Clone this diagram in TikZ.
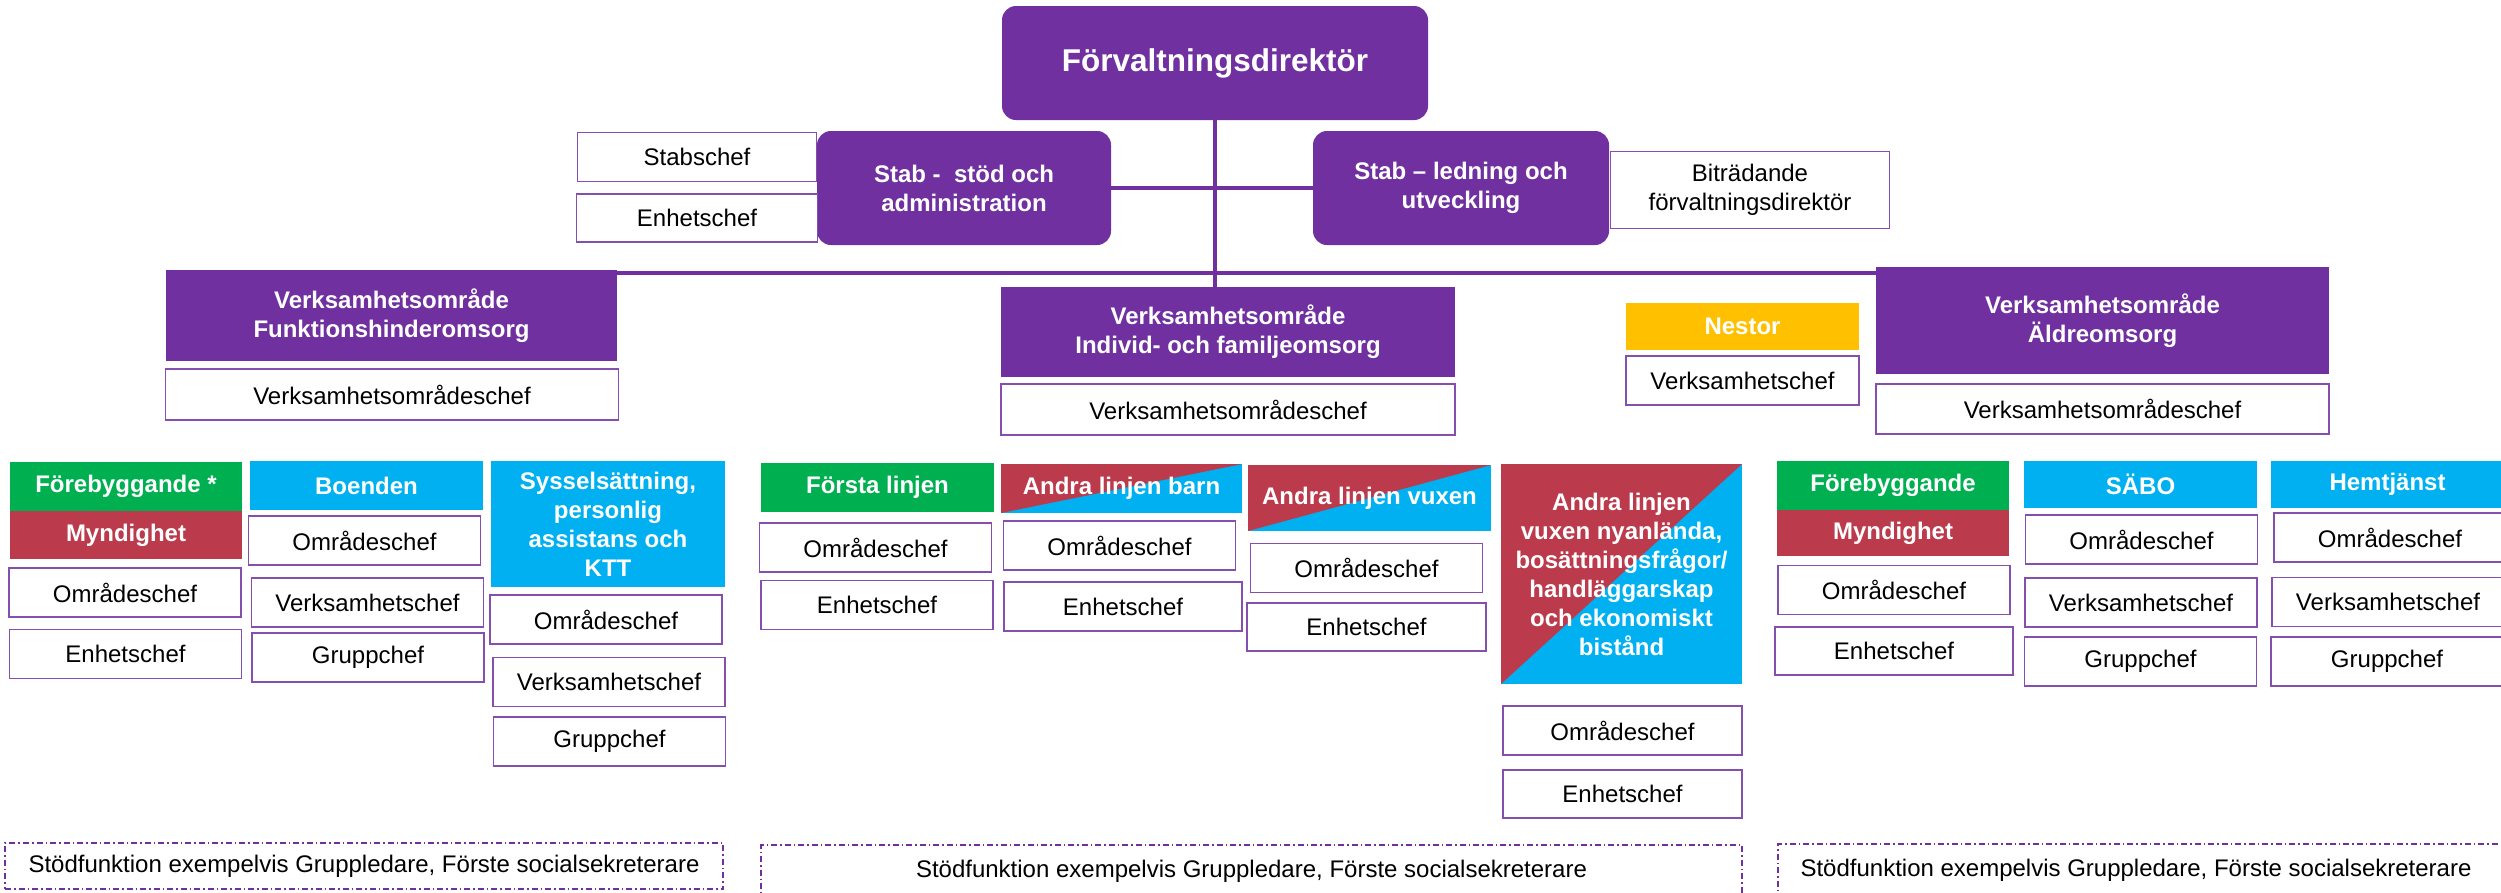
\documentclass[tikz,border=0pt]{standalone}
\usepackage{fontspec}
\setmainfont{Liberation Sans}
\definecolor{vpurple}{HTML}{7030A0}
\definecolor{vgreen}{HTML}{00B050}
\definecolor{vred}{HTML}{BB3B4C}
\definecolor{vblue}{HTML}{00B0F0}
\definecolor{vyellow}{HTML}{FFC000}
\begin{document}
\begin{tikzpicture}[x=1pt,y=-1pt,
	every node/.style={inner sep=0pt,outer sep=0pt,align=center,font=\fontsize{24}{29}\selectfont},
	sz/.style 2 args={minimum width=#1pt,minimum height=#2pt},
	lead/.style={fill=vpurple,text=white,font=\fontsize{24}{29}\selectfont\bfseries},
	rlead/.style={lead,rounded corners=14pt},
	tag/.style={text=white,font=\fontsize{24}{29}\selectfont\bfseries,sz={233}{49}},
	chef/.style={draw=vpurple!85,line width=1.5pt,fill=white,sz={232}{49}},
	split/.style={tag,fill=vblue,path picture={\fill[vred] (path picture bounding box.south west) -- (path picture bounding box.north west) -- (path picture bounding box.north east) -- cycle;}},
	stod/.style={draw=vpurple,line width=1.2pt,dash pattern=on 6pt off 3pt on 1.5pt off 3pt},
	link/.style={draw=vpurple,line width=4pt}]
	\useasboundingbox (0,0) rectangle (2501,892);
	%\draw[step=100,very thin,color=gray] (0,0) grid (2501,892);

	% ledning
	\node[rlead,sz={426}{114},font=\fontsize{31.5}{36}\selectfont\bfseries] (fd) at (1215,63) {Förvaltningsdirektör};
	\node[rlead,sz={294}{114}] (stabsa) at (964,188) {Stab -\ \ stöd och\\administration};
	\node[rlead,sz={296}{114}] (stablu) at (1461,188) {Stab – ledning och\\utveckling};
	\node[chef,sz={239}{49}] (stabschef) at (697,157) {Stabschef};
	\node[chef,sz={241}{48}] (stabenh) at (697,218) {Enhetschef};
	\node[chef,sz={279}{77}] (bitr) at (1750,190) {Biträdande\\förvaltningsdirektör};

	% verksamhetsomraden
	\node[lead,sz={451}{91}] (fho) at (391.5,315.5) {Verksamhetsområde\\Funktionshinderomsorg};
	\node[chef,sz={453}{51}] (fhochef) at (392,394.5) {Verksamhetsområdeschef};
	\node[lead,sz={454}{90}] (ifo) at (1228,332) {Verksamhetsområde\\Individ- och familjeomsorg};
	\node[chef,sz={454}{51}] (ifochef) at (1228,409.5) {Verksamhetsområdeschef};
	\node[tag,fill=vyellow,sz={233}{47}] (nestor) at (1742.5,326.5) {Nestor};
	\node[chef,sz={233}{49}] (nestorchef) at (1742.5,380.5) {Verksamhetschef};
	\node[lead,sz={453}{107}] (aeo) at (2102.5,320.5) {Verksamhetsområde\\Äldreomsorg};
	\node[chef,sz={453}{50}] (aeochef) at (2102.5,409) {Verksamhetsområdeschef};

	% funktionshinderomsorg
	\node[tag,fill=vgreen,sz={232}{49}] (fhoforeb) at (126,486.5) {Förebyggande *};
	\node[tag,fill=vred,sz={232}{48}] (fhomynd) at (126,535) {Myndighet};
	\node[chef] (fhoomr) at (125,592.5) {Områdeschef};
	\node[chef] (fhoenh) at (125.5,654) {Enhetschef};
	\node[tag,fill=vblue] (boenden) at (366.5,485.5) {Boenden};
	\node[chef] (boomr) at (364.5,540.5) {Områdeschef};
	\node[chef] (bovc) at (367.5,602.5) {Verksamhetschef};
	\node[chef] (bogc) at (368,657.5) {Gruppchef};
	\node[tag,fill=vblue,sz={234}{126}] (syss) at (608,524) {Sysselsättning,\\personlig\\assistans och\\KTT};
	\node[chef] (syomr) at (606,619.5) {Områdeschef};
	\node[chef] (syvc) at (609,682) {Verksamhetschef};
	\node[chef] (sygc) at (609.5,741.5) {Gruppchef};

	% individ- och familjeomsorg
	\node[tag,fill=vgreen] (forsta) at (877.5,487.5) {Första linjen};
	\node[chef] (foomr) at (875.5,547.5) {Områdeschef};
	\node[chef] (foenh) at (877,605) {Enhetschef};
	\node[split,sz={241}{49}] (barn) at (1121.5,488.5) {Andra linjen barn};
	\node[chef] (baomr) at (1119.5,545.5) {Områdeschef};
	\node[chef,sz={238}{49}] (baenh) at (1123,606.5) {Enhetschef};
	\node[split,sz={243}{66}] (vuxen) at (1369.5,498) {Andra linjen vuxen};
	\node[chef] (vuomr) at (1366.5,568) {Områdeschef};
	\node[chef,sz={239}{48}] (vuenh) at (1366.5,627) {Enhetschef};
	\node[split,sz={241}{220}] (nyanl) at (1621.5,574) {Andra linjen\\vuxen nyanlända,\\bosättningsfrågor/\\handläggarskap\\och ekonomiskt\\bistånd};
	\node[chef,sz={239}{49}] (nyomr) at (1622.5,730.5) {Områdeschef};
	\node[chef,sz={239}{48}] (nyenh) at (1622.5,794) {Enhetschef};

	% aldreomsorg
	\node[tag,fill=vgreen,sz={232}{49}] (aoforeb) at (1893,485.5) {Förebyggande};
	\node[tag,fill=vred,sz={232}{46}] (aomynd) at (1893,533) {Myndighet};
	\node[chef] (aoomr) at (1894,590) {Områdeschef};
	\node[chef,sz={238}{48}] (aoenh) at (1894,651) {Enhetschef};
	\node[tag,fill=vblue,sz={233}{47}] (sabo) at (2140.5,484.5) {SÄBO};
	\node[chef] (saomr) at (2141.5,539.5) {Områdeschef};
	\node[chef] (savc) at (2141,602.5) {Verksamhetschef};
	\node[chef] (sagc) at (2140.5,661.5) {Gruppchef};
	\node[tag,fill=vblue,sz={233}{47}] (hemtj) at (2387.5,484.5) {Hemtjänst};
	\node[chef] (heomr) at (2390,537.5) {Områdeschef};
	\node[chef] (hevc) at (2388,602) {Verksamhetschef};
	\node[chef] (hegc) at (2387,661.5) {Gruppchef};

	% stodfunktioner
	\node[stod,sz={718}{46}] (stod1) at (364,866) {Stödfunktion exempelvis Gruppledare, Förste socialsekreterare};
	\node[stod,sz={981}{52}] (stod2) at (1251.5,871) {Stödfunktion exempelvis Gruppledare, Förste socialsekreterare};
	\node[stod,sz={732}{52}] (stod3) at (2144,870) {\hspace{-16pt}Stödfunktion exempelvis Gruppledare, Förste socialsekreterare};

	% linjer
	\draw[link] (fd.south) -- (fd.south |- ifo.north);
	\draw[link] (stabsa.east) -- (stablu.west);
	\draw[link] ([yshift=-3pt]fho.north east) -- ([yshift=-3pt]fho.north east -| aeo.west);
\end{tikzpicture}
\end{document}
